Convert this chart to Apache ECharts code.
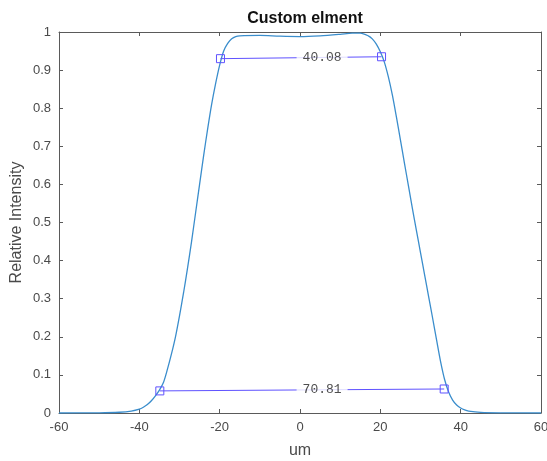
<!DOCTYPE html>
<html>
<head>
<meta charset="utf-8">
<script src="https://cdn.jsdelivr.net/npm/echarts@6/dist/echarts.min.js"></script>
<style>
  html, body { margin: 0; padding: 0; background: #fff; }
  #main { width: 547px; height: 461px; }
</style>
</head>
<body>
<div id="main"></div>
<script>
// profile (um, relative intensity)
const profileX = [-60, -50, -45, -42, -40, -39, -38, -37, -36, -35, -34, -33, -32, -31, -30, -29, -28, -27, -26, -25, -24, -23, -22, -21, -20, -19, -18, -17, -16, -15, -10, -5, 0, 5, 10, 13, 15, 17, 18, 19, 20, 21, 22, 23, 24, 25, 26, 27, 28, 29, 30, 31, 32, 33, 34, 35, 36, 37, 38, 39, 40, 41, 42, 45, 50, 60]
const profileY = [0, 0.0005, 0.002, 0.005, 0.01, 0.015, 0.022, 0.032, 0.045, 0.06, 0.08, 0.115, 0.155, 0.2, 0.255, 0.315, 0.38, 0.45, 0.525, 0.6, 0.675, 0.745, 0.81, 0.865, 0.913, 0.95, 0.97, 0.982, 0.988, 0.99, 0.991, 0.989, 0.988, 0.99, 0.994, 0.997, 0.997, 0.99, 0.982, 0.968, 0.948, 0.921, 0.882, 0.834, 0.777, 0.717, 0.656, 0.596, 0.536, 0.478, 0.421, 0.364, 0.307, 0.25, 0.192, 0.135, 0.088, 0.055, 0.034, 0.021, 0.013, 0.008, 0.005, 0.0015, 0.0003, 0]

// width measurements: end points, label and where the label sits
const fwTopPts = [[-19.8, 0.930], [20.3, 0.935]]
const fwBotPts = [[-34.9, 0.058], [35.9, 0.063]]
const widthLabels = ['40.08', '70.81']
const labelPos = [[5.5, 0.9325], [5.5, 0.0605]]

const xTicks = { min: -60, max: 60, interval: 20 }
const yTicks = { min: 0, max: 1, interval: 0.1 }

const axisColor = '#5a5a5a'
const textColor = '#4a4a4a'
const markColor = '#5f52ff'

let chart = echarts.init(document.getElementById('main'))

const xBase = {
  type: 'value',
  min: xTicks.min, max: xTicks.max, interval: xTicks.interval,
  splitLine: { show: false },
  axisLine: { onZero: false, lineStyle: { color: axisColor, width: 1 } },
  axisTick: { inside: true, length: 4, lineStyle: { color: axisColor } }
}
const yBase = {
  type: 'value',
  min: yTicks.min, max: yTicks.max, interval: yTicks.interval,
  splitLine: { show: false },
  axisLine: { onZero: false, lineStyle: { color: axisColor, width: 1 } },
  axisTick: { inside: true, length: 4, lineStyle: { color: axisColor } }
}

const measureSeries = [fwTopPts, fwBotPts].map(pts => ({
  type: 'line',
  data: pts,
  symbol: 'rect',
  symbolSize: 8,
  showAllSymbol: true,
  itemStyle: { color: 'rgba(0,0,0,0)', borderColor: markColor, borderWidth: 1 },
  lineStyle: { color: markColor, width: 1 },
  z: 3
}))

chart.setOption({
  backgroundColor: '#fff',
  animation: false,
  title: {
    text: 'Custom elment',
    left: 300, top: 6,
    textAlign: 'center',
    textStyle: { fontFamily: 'Liberation Sans', fontSize: 16, fontWeight: 'bold', color: '#111' }
  },
  grid: { left: 59, right: 6, top: 32, bottom: 48, containLabel: false, outerBoundsMode: 'none' },
  xAxis: [
    Object.assign({}, xBase, {
      position: 'bottom',
      name: 'um',
      nameLocation: 'middle',
      nameGap: 30,
      nameTextStyle: { fontFamily: 'Liberation Sans', fontSize: 16, color: textColor },
      axisLabel: { fontFamily: 'Liberation Sans', fontSize: 13, color: textColor, margin: 8 }
    }),
    Object.assign({}, xBase, { position: 'top', axisLabel: { show: false } })
  ],
  yAxis: [
    Object.assign({}, yBase, {
      position: 'left',
      name: 'Relative Intensity',
      nameLocation: 'middle',
      nameGap: 34,
      nameMoveOverlap: false,
      nameTextStyle: { fontFamily: 'Liberation Sans', fontSize: 16, color: textColor },
      axisLabel: { fontFamily: 'Liberation Sans', fontSize: 13, color: textColor, margin: 8 }
    }),
    Object.assign({}, yBase, { position: 'right', axisLabel: { show: false } })
  ],
  series: [
    {
      type: 'line',
      data: profileX.map((x, i) => [x, profileY[i]]),
      smooth: 0.3,
      showSymbol: false,
      lineStyle: { color: '#3a8dcc', width: 1.3 },
      z: 2
    },
    ...measureSeries,
    {
      type: 'scatter',
      data: labelPos.map((p, i) => ({ value: p, name: widthLabels[i] })),
      symbolSize: 0,
      z: 5,
      label: {
        show: true,
        position: 'inside',
        formatter: p => p.name,
        fontFamily: 'Liberation Mono',
        fontSize: 13,
        color: '#222',
        backgroundColor: '#fff',
        padding: [1, 6]
      }
    }
  ]
})
</script>
</body>
</html>
